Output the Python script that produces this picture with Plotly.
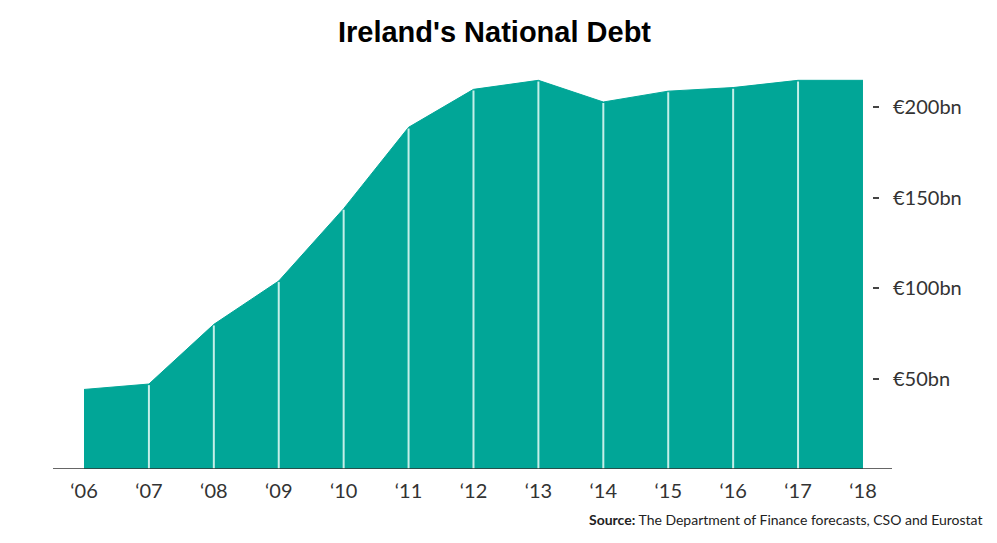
import plotly.graph_objects as go

years = [2006, 2007, 2008, 2009, 2010, 2011, 2012, 2013, 2014, 2015, 2016, 2017, 2018]
debt_bn = [44, 47, 80, 104, 144, 189, 210, 215, 203, 209, 211, 215, 215]
year_labels = ["‘06", "‘07", "‘08", "‘09", "‘10", "‘11", "‘12", "‘13", "‘14", "‘15", "‘16", "‘17", "‘18"]
y_ticks = [50, 100, 150, 200]
y_tick_labels = ["€50bn", "€100bn", "€150bn", "€200bn"]

TEAL = "#01a697"
DIVIDER = "#c4efe8"

fig = go.Figure()

fig.add_trace(go.Scatter(
    x=years, y=debt_bn, mode="lines", fill="tozeroy",
    fillcolor=TEAL, line=dict(color=TEAL, width=1),
    hoverinfo="x+y", showlegend=False,
))

# light dividers at each year (from baseline to the area top)
vx, vy = [], []
for x, v in zip(years[1:-1], debt_bn[1:-1]):
    vx += [x, x, None]
    vy += [0, v - 0.6, None]
fig.add_trace(go.Scatter(
    x=vx, y=vy, mode="lines", line=dict(color=DIVIDER, width=2),
    hoverinfo="skip", showlegend=False,
))

# the page body adds an 8px margin, so the figure is laid out 8px up/left
OFF = 8
W, H = 997 - OFF, 543 - OFF
L, R_EDGE, TOP, BASE = 53 - OFF, 872 - OFF, 53 - OFF, 469.5 - OFF
fig.update_layout(
    width=W, height=H,
    margin=dict(l=L, r=W - R_EDGE, t=TOP, b=H - BASE),
    paper_bgcolor="white", plot_bgcolor="white",
    title=dict(text="<b>Ireland's National Debt</b>", x=(494.5 - OFF) / W, xanchor="center",
               y=1 - (32 - OFF) / H, yanchor="middle",
               font=dict(family="Arial, Liberation Sans, sans-serif", size=29, color="#000")),
    xaxis=dict(
        range=[2005.5225, 2018.139], tickmode="array", tickvals=years, ticktext=year_labels,
        showgrid=False, zeroline=False, showline=False, ticks="",
        tickfont=dict(family="Lato, sans-serif", size=20, color="#333"),
        ticklabelstandoff=8,
    ),
    yaxis=dict(
        range=[0, (BASE - TOP) / 1.81], side="right", tickmode="array",
        tickvals=y_ticks, ticktext=y_tick_labels,
        showgrid=False, zeroline=False, showline=False,
        ticks="outside", ticklen=6, tickwidth=1.5, tickcolor="#444",
        tickfont=dict(family="Lato, sans-serif", size=20, color="#333"),
        ticklabelstandoff=10,
    ),
    shapes=[dict(type="line", xref="paper", yref="y", x0=0, x1=(892 - OFF - L) / (R_EDGE - L),
                 y0=0, y1=0, line=dict(color="#333", width=1.5))],
    annotations=[dict(
        text="<b>Source:</b> The Department of Finance forecasts, CSO and Eurostat",
        xref="paper", yref="paper", x=(985 - OFF - L) / (R_EDGE - L), xanchor="right",
        y=(BASE - (520 - OFF)) / (BASE - TOP), yanchor="middle", showarrow=False,
        font=dict(family="Lato, sans-serif", size=14, color="#222"),
    )],
)

fig.write_html("out.html")
